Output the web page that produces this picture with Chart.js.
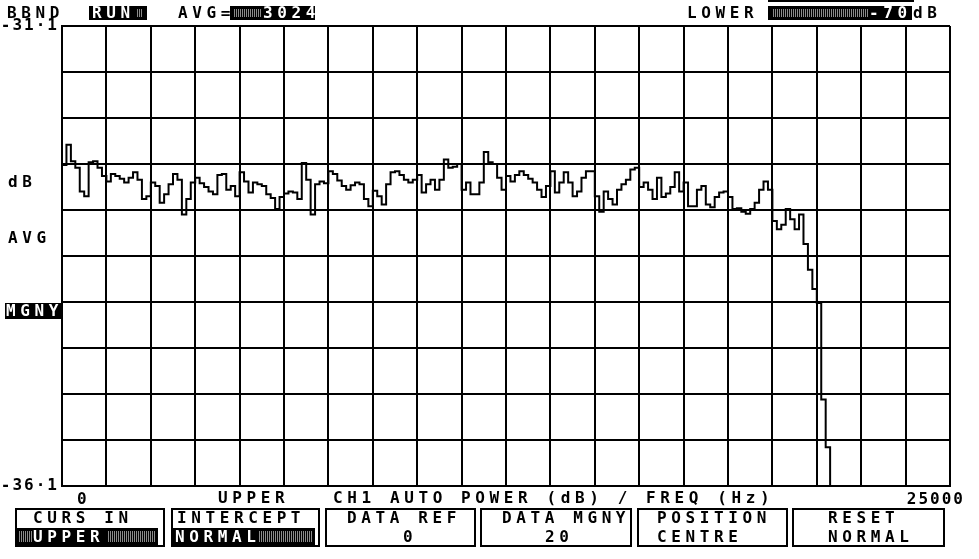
<!DOCTYPE html>
<html lang="en">
<head>
<meta charset="UTF-8">
<title>CH1 Auto Power</title>
<script src="https://cdn.jsdelivr.net/npm/chart.js"></script>
<style>
    body { margin: 0; background: #fff; }
    #screen {
        position: relative; width: 979px; height: 559px; overflow: hidden;
        font-family: 'DejaVu Sans Mono', monospace; font-weight: bold;
        font-size: 16px; letter-spacing: 4.6px; color: #000;
    }
    #screen canvas { position: absolute; left: 0; top: 0; }
    .t { position: absolute; line-height: 16px; white-space: pre; }
    .inv { position: absolute; background: #000; color: #fff; }
    .inv .t { color: #fff; }
    .hatch { position: absolute; background: repeating-linear-gradient(90deg, #000 0 1px, #8a8a8a 1px 2px); }
    .btn { position: absolute; top: 508px; height: 39px; box-sizing: border-box; border: 2px solid #000; }
    .bar { position: absolute; left: 0; top: 0; background: #000; }
</style>
</head>
<body>
<div id="screen">
    <canvas id="powerChart" width="979" height="559"></canvas>

    <!-- header -->
    <div class="t" style="left:7px;top:5px">BBND</div>
    <div class="inv" style="left:89px;top:6px;width:58px;height:14px">
        <div class="t" style="left:3px;top:-1px">RUN</div>
        <div class="hatch" style="left:47px;top:3px;width:7px;height:8px"></div>
    </div>
    <div class="t" style="left:178px;top:5px">AVG=</div>
    <div class="inv" style="left:230px;top:6px;width:85px;height:14px">
        <div class="hatch" style="left:3px;top:3px;width:29px;height:8px"></div>
        <div class="t" style="left:33px;top:-1px">3024</div>
    </div>
    <div class="t" style="left:687px;top:5px">LOWER</div>
    <div class="bar" style="left:768px;top:0;width:146px;height:2px"></div>
    <div class="inv" style="left:768px;top:6px;width:144px;height:14px">
        <div class="hatch" style="left:4px;top:3px;width:96px;height:8px"></div>
        <div class="t" style="left:101px;top:-1px">-70</div>
    </div>
    <div class="t" style="left:913px;top:5px">dB</div>

    <!-- left side -->
    <div class="t" style="left:8px;top:174px">dB</div>
    <div class="t" style="left:8px;top:230px">AVG</div>
    <div class="inv" style="left:5px;top:303px;width:57px;height:16px">
        <div class="t" style="left:1px;top:0">MGNY</div>
    </div>

    <!-- under the plot -->
    <div class="t" style="left:218px;top:490px">UPPER</div>
    <div class="t" style="left:333px;top:490px">CH1 AUTO POWER (dB) / FREQ (Hz)</div>

    <!-- soft keys -->
    <div class="btn" style="left:15px;width:150px"></div>
    <div class="t" style="left:33px;top:510px">CURS IN</div>
    <div class="inv" style="left:17px;top:528px;width:141px;height:17px">
        <div class="hatch" style="left:1px;top:3px;width:14px;height:11px"></div>
        <div class="t" style="left:16px;top:1px">UPPER</div>
        <div class="hatch" style="left:90px;top:3px;width:49px;height:11px"></div>
    </div>

    <div class="btn" style="left:171px;width:149px"></div>
    <div class="t" style="left:177px;top:510px">INTERCEPT</div>
    <div class="inv" style="left:172px;top:528px;width:143px;height:17px">
        <div class="t" style="left:3px;top:1px">NORMAL</div>
        <div class="hatch" style="left:86px;top:3px;width:54px;height:11px"></div>
    </div>

    <div class="btn" style="left:325px;width:151px"></div>
    <div class="t" style="left:347px;top:510px">DATA REF</div>
    <div class="t" style="left:403px;top:529px">0</div>

    <div class="btn" style="left:480px;width:152px"></div>
    <div class="t" style="left:502px;top:510px">DATA MGNY</div>
    <div class="t" style="left:545px;top:529px">20</div>

    <div class="btn" style="left:637px;width:151px"></div>
    <div class="t" style="left:657px;top:510px">POSITION</div>
    <div class="t" style="left:657px;top:529px">CENTRE</div>

    <div class="btn" style="left:792px;width:153px"></div>
    <div class="t" style="left:828px;top:510px">RESET</div>
    <div class="t" style="left:828px;top:529px">NORMAL</div>
</div>

<script>
    // analyser bins: 200 lines of 125 Hz over 0..25000 Hz
    const binHz = 125;
    const freqSpan = [0, 25000];
    const dbRange = [-36.1, -31.1];

    // level per bin (dB)
    const levels = [
        -32.61, -32.39, -32.57, -32.64, -32.90, -32.95, -32.58, -32.57, -32.64, -32.73,
        -32.79, -32.71, -32.73, -32.76, -32.80, -32.75, -32.69, -32.77, -32.98, -32.95,
        -32.80, -32.84, -33.02, -32.93, -32.82, -32.71, -32.77, -33.15, -32.98, -32.80,
        -32.75, -32.81, -32.85, -32.90, -32.93, -32.72, -32.71, -32.88, -32.84, -32.95,
        -32.69, -32.79, -32.91, -32.80, -32.82, -32.84, -32.93, -32.97, -33.09, -32.96,
        -32.92, -32.90, -32.91, -32.98, -32.59, -32.77, -33.15, -32.82, -32.79, -32.81,
        -32.68, -32.71, -32.78, -32.84, -32.88, -32.83, -32.80, -32.82, -32.98, -33.06,
        -32.89, -32.95, -33.04, -32.82, -32.69, -32.68, -32.72, -32.77, -32.80, -32.77,
        -32.72, -32.91, -32.82, -32.77, -32.88, -32.77, -32.55, -32.64, -32.63, -32.60,
        -32.88, -32.80, -32.93, -32.93, -32.80, -32.47, -32.58, -32.60, -32.75, -32.88,
        -32.73, -32.79, -32.72, -32.68, -32.72, -32.76, -32.80, -32.88, -32.96, -32.84,
        -32.68, -32.91, -32.80, -32.69, -32.80, -32.95, -32.90, -32.75, -32.68, -32.68,
        -32.95, -33.12, -32.90, -32.98, -33.04, -32.88, -32.82, -32.77, -32.66, -32.64,
        -32.85, -32.80, -32.88, -32.98, -32.75, -32.96, -32.92, -32.85, -32.69, -32.90,
        -32.80, -33.06, -33.06, -32.88, -32.84, -33.04, -33.07, -32.96, -32.91, -32.90,
        -32.96, -33.09, -33.08, -33.12, -33.14, -33.09, -33.02, -32.88, -32.79, -32.88,
        -33.22, -33.31, -33.26, -33.09, -33.20, -33.31, -33.15, -33.47, -33.75, -33.96,
        -34.11, -35.16, -35.68, -36.10, -36.10, -36.10, -36.10, -36.10, -36.10, -36.10,
        -36.10, -36.10, -36.10, -36.10, -36.10, -36.10, -36.10, -36.10, -36.10, -36.10,
        -36.10, -36.10, -36.10, -36.10, -36.10, -36.10, -36.10, -36.10, -36.10, -36.10
    ];

    const trace = levels.map((v, i) => ({ x: i * binHz, y: v }));
    trace.push({ x: freqSpan[1], y: levels[levels.length - 1] });

    const monoFont = { family: "'DejaVu Sans Mono', monospace", size: 16, weight: 'bold' };

    // spread the tick lettering a bit like the analyser font
    const tickSpacing = {
        id: 'tickSpacing',
        beforeDraw(chart) { chart.ctx.letterSpacing = '2px'; }
    };

    new Chart(document.getElementById('powerChart'), {
        type: 'line',
        data: {
            datasets: [{
                data: trace,
                stepped: true,
                borderColor: '#000',
                borderWidth: 2,
                pointRadius: 0,
                fill: false,
                clip: 3
            }]
        },
        options: {
            responsive: false,
            animation: false,
            layout: { padding: { left: 0, right: 29, top: 26, bottom: 53 } },
            plugins: { legend: { display: false }, tooltip: { enabled: false } },
            scales: {
                x: {
                    type: 'linear',
                    min: freqSpan[0],
                    max: freqSpan[1],
                    afterFit: scale => { scale.height = 20; },
                    grid: { color: '#000', lineWidth: 2, drawTicks: false },
                    border: { color: '#000', width: 2 },
                    ticks: {
                        stepSize: 1250,
                        autoSkip: false,
                        maxRotation: 0,
                        align: 'inner',
                        labelOffset: 15,
                        padding: 4,
                        color: '#000',
                        font: monoFont,
                        callback: v => (v === freqSpan[0] || v === freqSpan[1]) ? String(v) : ''
                    }
                },
                y: {
                    min: dbRange[0],
                    max: dbRange[1],
                    afterFit: scale => { scale.width = 62; },
                    grid: { color: '#000', lineWidth: 2, drawTicks: false },
                    border: { color: '#000', width: 2 },
                    ticks: {
                        stepSize: 0.5,
                        align: 'inner',
                        padding: 3,
                        color: '#000',
                        font: monoFont,
                        callback: (v, i, ticks) => (i === 0 || i === ticks.length - 1)
                            ? v.toFixed(1).replace('.', '·') : ''
                    }
                }
            }
        },
        plugins: [tickSpacing]
    });
</script>
</body>
</html>
